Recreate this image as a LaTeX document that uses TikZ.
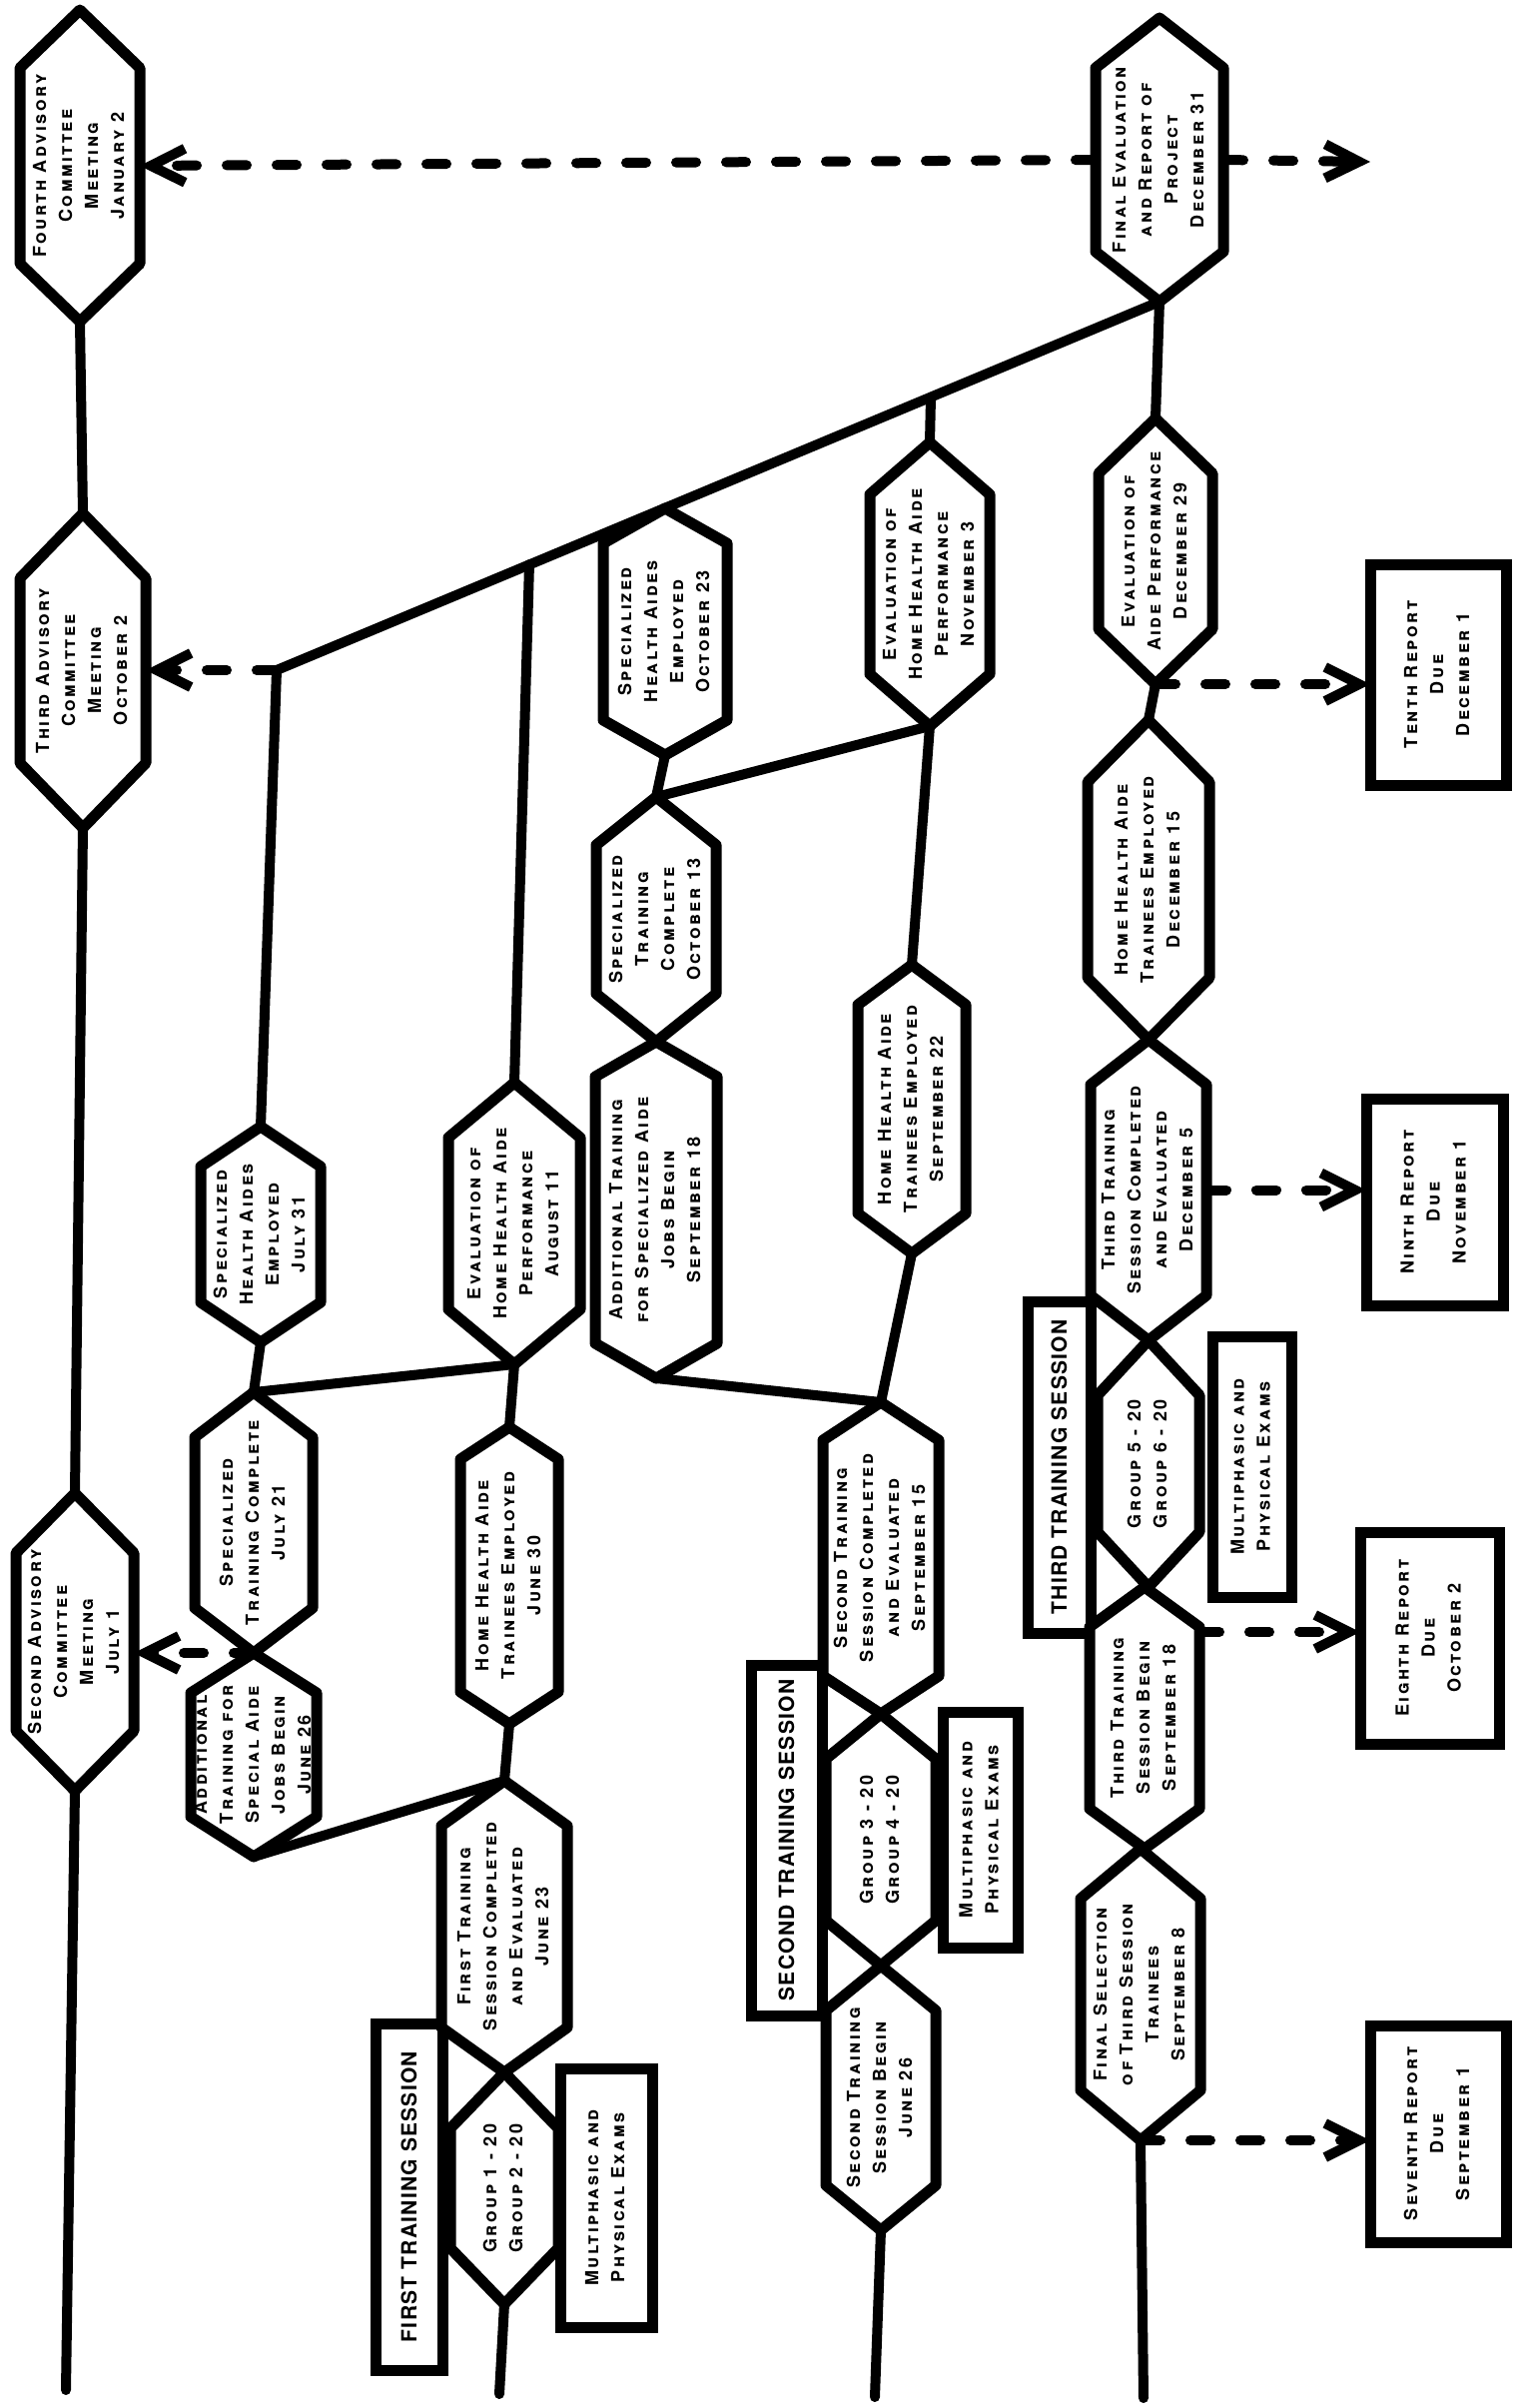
\documentclass[tikz,border=0pt]{standalone}
\usepackage{fontspec}
\usepackage{graphicx}
\usetikzlibrary{arrows.meta}
\newfontfamily\lblfont{TeX Gyre Heros}[LetterSpace=14]
\newfontfamily\hdfont{TeX Gyre Heros}[LetterSpace=6]
\newcommand\lbltxt[1]{\rotatebox{90}{\lblfont\bfseries\scshape\fontsize{9}{13}\selectfont\begin{tabular}{@{}c@{}}#1\end{tabular}}}
\newcommand\hdtxt[1]{\rotatebox{90}{\hdfont\bfseries\fontsize{10.5}{12}\selectfont #1}}
\tikzset{
  hexshape/.style={draw=none, rectangle, inner sep=0pt, outer sep=0pt},
  hexline/.style={draw, line width=5.5pt, fill=white, line join=round},
  lbl/.style={inner sep=0pt, outer sep=0pt},
  rectn/.style={draw, line width=5.5pt, fill=white, inner sep=0pt, outer sep=0pt},
  conn/.style={line width=5pt, line cap=round},
  dconn/.style={line width=5pt, dash pattern=on 10pt off 15pt, line cap=round, -{Straight Barb[length=17pt,width=17pt]}}
}
% name, cx, top, bottom, half-width, point depth, text
\newcommand\hexnode[7]{%
  \node[hexshape, minimum width={#5*1pt}, minimum height={(#4-#3)*0.5pt}] (#1) at (#2,{(#3+#4)/2}) {};
  \path[hexline] (#1.north) -- ([shift={(0,#6)}]#1.north east) -- ([shift={(0,-#6)}]#1.south east) -- (#1.south) -- ([shift={(0,-#6)}]#1.south west) -- ([shift={(0,#6)}]#1.north west) -- cycle;
  \node[lbl] (#1t) at (#1.center) {\lbltxt{#7}};
}
% name, x1, y1, x2, y2, content
\newcommand\rectnode[6]{%
  \node[rectn, minimum width={(#4-#2)*0.5pt}, minimum height={(#5-#3)*0.5pt}] (#1) at ({(#2+#4)/2},{(#3+#5)/2}) {#6};
}
\begin{document}
\begin{tikzpicture}[x=0.5pt,y=-0.5pt]
\useasboundingbox[fill=white] (0,0) rectangle (1533,2411);

% ---------- boxes ----------
\rectnode{R10}{1372}{565}{1508}{786}{\lbltxt{Tenth Report\\Due\\December 1}}
\rectnode{R9}{1368}{1100}{1505}{1307}{\lbltxt{Ninth Report\\Due\\November 1}}
\rectnode{R8}{1362}{1534}{1501}{1746}{\lbltxt{Eighth Report\\Due\\October 2}}
\rectnode{R7}{1372}{2028}{1508}{2245}{\lbltxt{Seventh Report\\Due\\September 1}}
\rectnode{T1}{376}{2026}{443}{2373}{\hdtxt{FIRST TRAINING SESSION}}
\rectnode{T2}{752}{1667}{823}{2018}{\hdtxt{SECOND TRAINING SESSION}}
\rectnode{T3}{1029}{1303}{1092}{1635}{\hdtxt{THIRD TRAINING SESSION}}
\rectnode{M1}{561}{2071}{653}{2330}{\lbltxt{Multiphasic and\\Physical Exams}}
\rectnode{M2}{944}{1714}{1019}{1950}{\lbltxt{Multiphasic and\\Physical Exams}}
\rectnode{M3}{1214}{1338}{1293}{1599}{\lbltxt{Multiphasic and\\Physical Exams}}

% ---------- lane A ----------
\hexnode{A1}{80}{10}{322}{60}{58}{Fourth Advisory\\Committee\\Meeting\\January 2}
\hexnode{A2}{83}{514}{829}{63}{65}{Third Advisory\\Committee\\Meeting\\October 2}
\hexnode{A3}{75}{1495}{1793}{59}{60}{Second Advisory\\Committee\\Meeting\\July 1}
% ---------- lane B ----------
\hexnode{B1}{261}{1128}{1344}{60}{40}{Specialized\\Health Aides\\Employed\\July 31}
\hexnode{B2}{254}{1394}{1655}{59}{45}{Specialized\\Training Complete\\July 21}
\hexnode{B3}{254}{1655}{1859}{63}{40}{Additional\\Training for\\Special Aide\\Jobs Begin\\June 26}
% ---------- lane C ----------
\hexnode{C1}{515}{1084}{1366}{66}{55}{Evaluation of\\Home Health Aide\\Performance\\August 11}
\hexnode{C2}{510}{1429}{1726}{49}{32}{Home Health Aide\\Trainees Employed\\June 30}
\hexnode{C3}{505}{1783}{2075}{63}{45}{First Training\\Session Completed\\and Evaluated\\June 23}
\hexnode{C4}{505}{2075}{2307}{54}{56}{Group 1 - 20\\Group 2 - 20}
% ---------- lane D ----------
\hexnode{D1}{666}{509}{756}{62}{35}{Specialized\\Health Aides\\Employed\\October 23}
\hexnode{D2}{657}{798}{1043}{60}{48}{Specialized\\Training\\Complete\\October 13}
\hexnode{D3}{657}{1043}{1380}{61}{35}{Additional Training\\for Specialized Aide\\Jobs Begin\\September 18}
% ---------- lane E ----------
\hexnode{E1}{931}{443}{727}{60}{52}{Evaluation of\\Home Health Aide\\Performance\\November 3}
\hexnode{E2}{913}{966}{1255}{54}{40}{Home Health Aide\\Trainees Employed\\September 22}
\hexnode{E3}{882}{1404}{1716}{58}{38}{Second Training\\Session Completed\\and Evaluated\\September 15}
\hexnode{E4}{882}{1716}{1968}{55}{45}{Group 3 - 20\\Group 4 - 20}
\hexnode{E5}{882}{1968}{2233}{55}{45}{Second Training\\Session Begin\\June 26}
% ---------- lane F ----------
\hexnode{F1}{1161}{18}{302}{64}{50}{Final Evaluation\\and Report of\\Project\\December 31}
\hexnode{F2}{1157}{419}{685}{57}{55}{Evaluation of\\Aide Performance\\December 29}
\hexnode{F3}{1150}{721}{1041}{61}{62}{Home Health Aide\\Trainees Employed\\December 15}
\hexnode{F4}{1150}{1041}{1342}{58}{45}{Third Training\\Session Completed\\and Evaluated\\December 5}
\hexnode{F5}{1150}{1342}{1589}{51}{55}{Group 5 - 20\\Group 6 - 20}
\hexnode{F6}{1146}{1589}{1851}{55}{40}{Third Training\\Session Begin\\September 18}
\hexnode{F7}{1142}{1851}{2143}{60}{50}{Final Selection\\of Third Session\\Trainees\\September 8}

% ---------- junctions and free ends ----------
\coordinate (J1) at (277,671);
\coordinate (jE) at (932,398);
\coordinate (jC) at (530,565);
\coordinate (Aend) at (66,2393);
\coordinate (Cend) at (500,2397);
\coordinate (Eend) at (876,2400);
\coordinate (Fend) at (1145,2401);
\coordinate (Rend) at (1372,162);
\coordinate (F6a) at ([shift={(0,45)}]F6.north east);

% ---------- solid connectors ----------
\draw[conn] (A1.south) -- (A2.north);
\draw[conn] (A2.south) -- (A3.north);
\draw[conn] (A3.south) -- (Aend);
\draw[conn] (F1.south) -- (F2.north);
\draw[conn] (F2.south) -- (F3.north);
\draw[conn] (F7.south) -- (Fend);
\draw[conn] (F1.south) -- (J1);
\draw[conn] (jE) -- (E1.north);
\draw[conn] (jC) -- (C1.north);
\draw[conn] (J1) -- (B1.north);
\draw[conn] (E1.south) -- (E2.north);
\draw[conn] (E2.south) -- (E3.north);
\draw[conn] (E5.south) -- (Eend);
\draw[conn] (D1.south) -- (D2.north);
\draw[conn] (D2.north) -- (E1.south);
\draw[conn] (D3.south) -- (E3.north);
\draw[conn] (B1.south) -- (B2.north);
\draw[conn] (B2.north) -- (C1.south);
\draw[conn] (C1.south) -- (C2.north);
\draw[conn] (C2.south) -- (C3.north);
\draw[conn] (B3.south) -- (C3.north);
\draw[conn] (C4.south) -- (Cend);

% ---------- dashed arrows ----------
\draw[dconn] (F1.west) -- (A1.east);
\draw[dconn] (F1.east) -- (Rend);
\draw[dconn] (J1) -- (J1 -| A2.east);
\draw[dconn] (B2.south) -- (B2.south -| A3.east);
\draw[dconn] (F2.south) -- (F2.south -| R10.west);
\draw[dconn] (F4.east) -- (F4.east -| R9.west);
\draw[dconn] (F6a) -- (F6a -| R8.west);
\draw[dconn] (F7.south) -- (F7.south -| R7.west);
\end{tikzpicture}
\end{document}
